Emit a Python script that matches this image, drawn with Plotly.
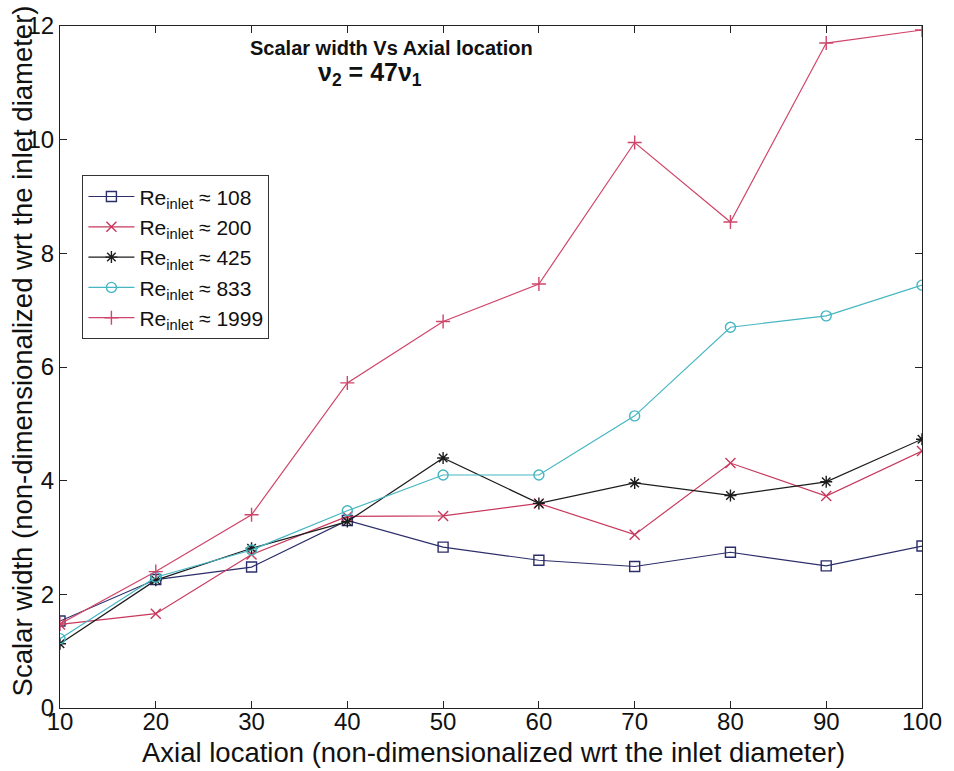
import plotly.graph_objects as go

# Axial stations (non-dimensionalised by inlet diameter)
axial_location = [10, 20, 30, 40, 50, 60, 70, 80, 90, 100]

# Scalar width at each station, one list per inlet Reynolds number
width_re108 = [1.53, 2.26, 2.48, 3.30, 2.83, 2.60, 2.49, 2.74, 2.50, 2.85]
width_re200 = [1.47, 1.66, 2.70, 3.37, 3.38, 3.60, 3.05, 4.31, 3.73, 4.52]
width_re425 = [1.13, 2.25, 2.81, 3.28, 4.40, 3.60, 3.96, 3.74, 3.98, 4.73]
width_re833 = [1.22, 2.30, 2.78, 3.47, 4.10, 4.10, 5.14, 6.70, 6.90, 7.44]
width_re1999 = [1.48, 2.40, 3.40, 5.72, 6.80, 7.46, 9.95, 8.55, 11.70, 11.93]

re_labels = ["108", "200", "425", "833", "1999"]
x_ticks = [10, 20, 30, 40, 50, 60, 70, 80, 90, 100]
y_ticks = [0, 2, 4, 6, 8, 10, 12]

series = [
    (width_re108, re_labels[0], "#2c2e6a", "square-open"),
    (width_re200, re_labels[1], "#c8385c", "x-thin-open"),
    (width_re425, re_labels[2], "#1c1c1c", "asterisk-open"),
    (width_re833, re_labels[3], "#45b6c2", "circle-open"),
    (width_re1999, re_labels[4], "#d0456a", "cross-thin-open"),
]

FONT = "Liberation Sans, Arial, Helvetica, sans-serif"

fig = go.Figure()
for values, label, color, symbol in series:
    fig.add_trace(go.Scatter(
        x=axial_location, y=values, mode="lines+markers",
        name=f"Re<sub>inlet</sub> ≈ {label}",
        line=dict(color=color, width=1.2),
        marker=dict(symbol=symbol, size=10, color=color,
                    line=dict(color=color, width=1.4)),
    ))

axis_common = dict(
    showline=True, linecolor="#222", linewidth=1, mirror="ticks",
    ticks="inside", ticklen=7, tickcolor="#222", showgrid=False,
    zeroline=False, tickfont=dict(family=FONT, size=24, color="#111"),
)

fig.update_layout(
    width=954, height=771,
    margin=dict(l=60, r=26, t=20, b=63),
    paper_bgcolor="white", plot_bgcolor="white",
    font=dict(family=FONT, color="#111"),
    xaxis=dict(range=[10, 100], tickvals=x_ticks, ticklabelstandoff=-8,
               **axis_common),
    yaxis=dict(range=[0, 12], tickvals=y_ticks, **axis_common),
    showlegend=True,
    legend=dict(
        x=0.026, y=0.781, xanchor="left", yanchor="top",
        bgcolor="white", bordercolor="#333", borderwidth=1,
        font=dict(family=FONT, size=21, color="#111"),
        tracegroupgap=0, itemwidth=46,
    ),
)

fig.add_annotation(
    text="<b>Scalar width Vs Axial location</b>",
    xref="paper", yref="paper", x=0.385, y=0.968,
    xanchor="center", yanchor="middle", showarrow=False,
    font=dict(family=FONT, size=20, color="#111"),
)
fig.add_annotation(
    text="<b>ν<sub>2</sub> = 47ν<sub>1</sub></b>",
    xref="paper", yref="paper", x=0.297, y=0.93,
    xanchor="left", yanchor="middle", showarrow=False,
    font=dict(family=FONT, size=25, color="#111"),
)
fig.add_annotation(
    text="Axial location (non-dimensionalized wrt the inlet diameter)",
    xref="paper", yref="paper", x=0.503, y=-0.065,
    xanchor="center", yanchor="middle", showarrow=False,
    font=dict(family=FONT, size=27.5, color="#111"),
)
fig.add_annotation(
    text="Scalar width (non-dimensionalized wrt the inlet diameter)",
    xref="paper", yref="paper", x=-0.044, y=0.523, textangle=-90,
    xanchor="center", yanchor="middle", showarrow=False,
    font=dict(family=FONT, size=27.5, color="#111"),
)

fig.write_html("out.html")
